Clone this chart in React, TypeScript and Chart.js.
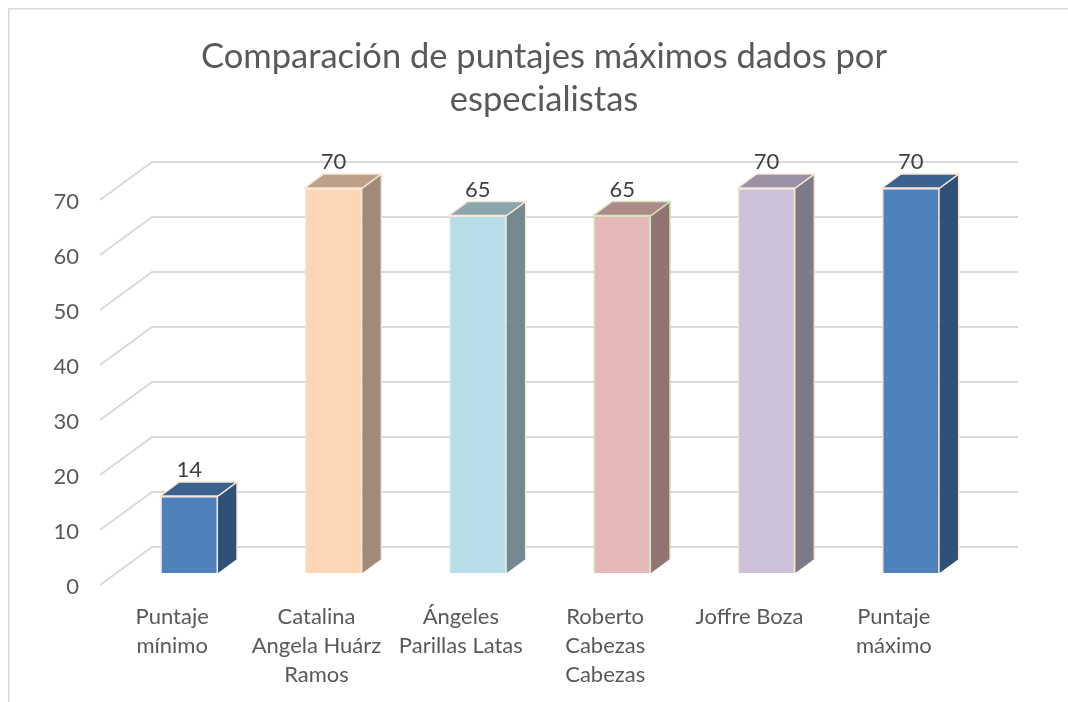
import React, { useEffect, useRef } from "react";
import { Chart, registerables } from "chart.js";

Chart.register(...registerables);

const titleLines = ["Comparación de puntajes máximos dados por", "especialistas"];
const categories: string[][] = [
  ["Puntaje", "mínimo"],
  ["Catalina", "Angela Huárz", "Ramos"],
  ["Ángeles", "Parillas Latas"],
  ["Roberto", "Cabezas", "Cabezas"],
  ["Joffre Boza"],
  ["Puntaje", "máximo"],
];
const values = [14, 70, 65, 65, 70, 70];
const yMin = 0;
const yMax = 70;
const yStep = 10;

const frontColors = ["#4F81BD", "#FCD5B5", "#B7DEE8", "#E6B9B8", "#CCC1DA", "#4F81BD"];
const topColors = ["#3B618E", "#BDA088", "#8AA7AE", "#AD8B8A", "#9A91A4", "#3B618E"];
const sideColors = ["#2F5077", "#A08A78", "#74898F", "#917573", "#7F7A89", "#2F5077"];
const borderColors = ["#FBE5D6", "#FBE5D6", "#FBE5D6", "#D7E4BD", "#FBE5D6", "#FBE5D6"];

const FONT = "Lato, 'Open Sans', sans-serif";
const TEXT = "#595959";
const GRID = "#D9D9D9";

// 3D geometry offsets (pixels)
const BAR_DX = 19;
const BAR_DY = -14;
const FRONT_DX = -17;
const FRONT_DY = 12;
const BACK_DX = 35;
const BACK_DY = -26;

const threeD = {
  id: "threeD",
  beforeDraw(chart: any) {
    const ctx = chart.ctx;
    ctx.save();
    ctx.fillStyle = "#FFFFFF";
    ctx.fillRect(0, 0, chart.width, chart.height);
    ctx.strokeStyle = GRID;
    ctx.lineWidth = 1.5;
    ctx.beginPath();
    ctx.moveTo(8.75, chart.height);
    ctx.lineTo(8.75, 8.75);
    ctx.lineTo(chart.width, 8.75);
    ctx.stroke();
    ctx.restore();
  },
  beforeDatasetsDraw(chart: any) {
    const ctx = chart.ctx;
    const ys = chart.scales.y;
    const area = chart.chartArea;
    ctx.save();
    ctx.strokeStyle = GRID;
    ctx.lineWidth = 2;
    ys.ticks.forEach((t: any) => {
      const yp = ys.getPixelForValue(t.value);
      ctx.beginPath();
      ctx.moveTo(area.left + FRONT_DX, yp + FRONT_DY);
      ctx.lineTo(area.left + BACK_DX, yp + BACK_DY);
      ctx.lineTo(area.right + BACK_DX, yp + BACK_DY);
      ctx.stroke();
    });
    // y tick labels
    ctx.fillStyle = TEXT;
    ctx.font = `22px ${FONT}`;
    ctx.textAlign = "right";
    ctx.textBaseline = "middle";
    ys.ticks.forEach((t: any) => {
      const yp = ys.getPixelForValue(t.value);
      ctx.fillText(String(t.value), 79, yp + FRONT_DY + 2);
    });
    ctx.restore();
  },
  afterDatasetsDraw(chart: any) {
    const ctx = chart.ctx;
    const meta = chart.getDatasetMeta(0);
    const xs = chart.scales.x;
    ctx.save();
    meta.data.forEach((bar: any, i: number) => {
      const { x, y, base, width } = bar.getProps(["x", "y", "base", "width"], true);
      const l = x - width / 2;
      const r = x + width / 2;
      ctx.lineWidth = 1.5;
      ctx.strokeStyle = borderColors[i];
      ctx.lineJoin = "round";
      // side face
      ctx.fillStyle = sideColors[i];
      ctx.beginPath();
      ctx.moveTo(r, y);
      ctx.lineTo(r + BAR_DX, y + BAR_DY);
      ctx.lineTo(r + BAR_DX, base + BAR_DY);
      ctx.lineTo(r, base);
      ctx.closePath();
      ctx.fill();
      ctx.beginPath();
      ctx.moveTo(r, y);
      ctx.lineTo(r + BAR_DX, y + BAR_DY);
      ctx.lineTo(r + BAR_DX, base + BAR_DY);
      ctx.stroke();
      // top face
      ctx.fillStyle = topColors[i];
      ctx.beginPath();
      ctx.moveTo(l, y);
      ctx.lineTo(l + BAR_DX, y + BAR_DY);
      ctx.lineTo(r + BAR_DX, y + BAR_DY);
      ctx.lineTo(r, y);
      ctx.closePath();
      ctx.fill();
      ctx.stroke();
      // data label
      ctx.fillStyle = "#404040";
      ctx.font = `22px ${FONT}`;
      ctx.textAlign = "center";
      ctx.textBaseline = "middle";
      ctx.fillText(String(values[i]), x, y - 26);
    });
    // category labels
    ctx.fillStyle = TEXT;
    ctx.font = `22px ${FONT}`;
    ctx.textAlign = "center";
    ctx.textBaseline = "middle";
    categories.forEach((lines, i) => {
      const cx = xs.getPixelForValue(i) + FRONT_DX;
      lines.forEach((ln, j) => {
        ctx.fillText(ln, cx, 617 + j * 29);
      });
    });
    // title
    ctx.font = `34.5px ${FONT}`;
    ctx.fillText(titleLines[0], 544, 57);
    ctx.fillText(titleLines[1], 544, 100);
    ctx.restore();
  },
};

export default function App() {
  const ref = useRef<HTMLCanvasElement>(null);
  useEffect(() => {
    if (!ref.current) return;
    const chart = new Chart(ref.current, {
      type: "bar",
      data: {
        labels: categories.map((c) => c.join(" ")),
        datasets: [
          {
            data: values,
            backgroundColor: frontColors,
            borderColor: borderColors,
            borderWidth: 1.5,
            categoryPercentage: 1,
            barPercentage: 0.4,
          },
        ],
      },
      options: {
        responsive: false,
        animation: false,
        layout: { padding: { top: 188, left: 117, right: 85, bottom: 129 } },
        plugins: { legend: { display: false }, title: { display: false }, tooltip: { enabled: false } },
        scales: {
          x: { display: false },
          y: { display: false, min: yMin, max: yMax, ticks: { stepSize: yStep } },
        },
      },
      plugins: [threeD],
    });
    return () => chart.destroy();
  }, []);
  return (
    <div style={{ position: "absolute", left: 0, top: 0, width: 1068, height: 702 }}>
      <canvas ref={ref} width={1068} height={702} />
    </div>
  );
}
